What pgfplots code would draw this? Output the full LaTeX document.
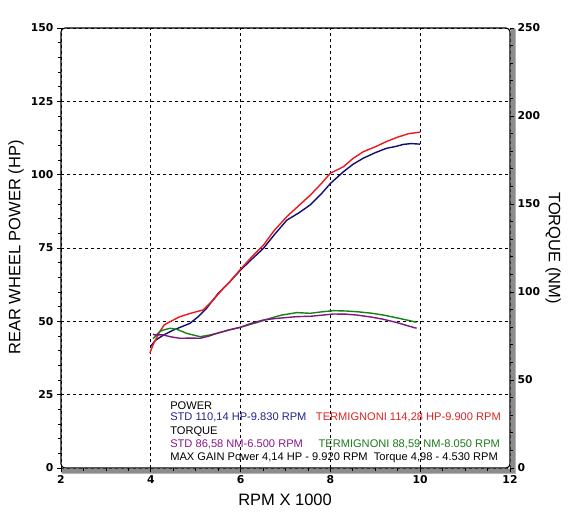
\documentclass[border=0pt]{standalone}
\usepackage{pgfplots}
\pgfplotsset{compat=1.18}
\usepackage{fontspec}
\setmainfont{Liberation Sans}
\newfontfamily\tickfont{DejaVu Sans}
\definecolor{navyc}{RGB}{15,15,115}
\definecolor{redc}{RGB}{235,25,30}
\definecolor{greenc}{RGB}{20,130,20}
\definecolor{purplec}{RGB}{130,20,130}
\definecolor{navyt}{RGB}{35,35,140}
\definecolor{redt}{RGB}{225,35,35}
\definecolor{greent}{RGB}{30,120,30}
\definecolor{purplet}{RGB}{135,25,135}
\definecolor{shadowc}{RGB}{140,140,140}

\pgfplotstableread{
x y
4.00 41.5
4.10 43.5
4.28 45.3
4.50 47.0
4.87 49.3
5.05 51.5
5.24 54.4
5.50 59.5
5.76 63.5
6.00 67.5
6.25 71.2
6.51 74.9
6.75 79.5
7.03 84.5
7.30 87.0
7.55 89.7
7.80 93.5
8.00 97.0
8.29 101.0
8.50 103.5
8.73 105.6
9.00 107.5
9.25 109.0
9.45 109.6
9.62 110.3
9.80 110.6
10.00 110.4
}\stdpower

\pgfplotstableread{
x y
3.98 39.2
4.05 42.0
4.20 46.5
4.30 48.8
4.43 49.9
4.65 51.6
4.90 52.8
5.17 53.9
5.39 57.3
5.60 61.0
5.76 63.5
6.00 67.8
6.25 72.0
6.51 76.0
6.75 81.0
7.03 85.7
7.30 89.5
7.55 93.0
7.80 97.0
8.00 100.5
8.29 102.7
8.50 105.5
8.73 107.8
9.00 109.5
9.25 111.3
9.50 112.8
9.75 114.0
10.00 114.5
}\termpower

\pgfplotstableread{
x y
4.05 73.5
4.09 74.6
4.20 77.5
4.28 78.4
4.43 79.4
4.58 78.8
4.80 76.5
5.10 74.6
5.30 75.5
5.47 76.5
5.75 78.5
5.99 79.9
6.20 81.5
6.36 82.6
6.65 85.0
6.90 86.8
7.25 88.3
7.55 87.9
7.80 88.7
8.07 89.4
8.35 89.2
8.59 88.8
8.90 88.0
9.18 86.9
9.50 85.2
9.75 83.8
9.92 82.8
}\termtorque

\pgfplotstableread{
x y
4.05 76.0
4.09 75.6
4.28 75.6
4.45 74.5
4.65 73.7
4.90 73.8
5.10 73.7
5.30 75.0
5.47 76.5
5.75 78.5
5.99 79.9
6.25 82.3
6.51 84.1
6.80 85.0
7.25 86.0
7.55 86.2
7.80 86.8
8.07 87.5
8.35 87.4
8.59 86.9
8.90 85.8
9.18 84.5
9.50 82.5
9.75 80.6
9.92 79.4
}\stdtorque

\begin{document}
\begin{tikzpicture}
\useasboundingbox (-61bp,-49bp) rectangle (507bp,468bp);
\pgfplotsset{
  common/.style={
    scale only axis, width=449bp, height=440bp,
    xmin=2, xmax=12,
    tick align=outside,
    major tick length=4bp, minor tick length=3bp,
    tick style={black, line width=0.8bp},
    /pgf/number format/assume math mode=true,
    tick label style={font=\tickfont\bfseries\fontsize{10.8bp}{12bp}\selectfont},
    axis line style={draw=none},
  }
}
\begin{axis}[common,
  name=ax,
  ymin=0, ymax=150,
  xtick={2,4,...,12}, ytick={0,25,...,150},
  minor x tick num=3, minor y tick num=4,
  xtick pos=bottom, ytick pos=left,
  grid=major,
  major grid style={black, dash pattern=on 3bp off 3bp, line width=0.7bp},
  axis background/.style={fill=white, draw=black, line width=1.1bp, rounded corners=4bp},
  xlabel={RPM X 1000},
  ylabel={REAR WHEEL POWER (HP)},
  every axis x label/.style={at={(axis description cs:0.499,-0.073)}, anchor=center, font=\fontsize{16.5bp}{18bp}\selectfont},
  every axis y label/.style={at={(axis description cs:-0.10,0.501)}, rotate=90, anchor=center, font=\fontsize{16.5bp}{18bp}\selectfont},
]
\addplot[navyc, line width=1.4bp] table[x=x,y=y] {\stdpower};
\addplot[redc, line width=1.4bp] table[x=x,y=y] {\termpower};

\begin{scope}[every node/.style={font=\fontsize{11.1bp}{12bp}\selectfont, inner sep=0pt}]
\node[anchor=west, text=black] at (axis cs:4.43,21.2) {POWER};
\node[anchor=west, text=navyt] at (axis cs:4.43,17.2) {STD 110,14 HP-9.830 RPM};
\node[anchor=east, text=redt] at (axis cs:11.8,17.2) {TERMIGNONI 114,28 HP-9.900 RPM};
\node[anchor=west, text=black] at (axis cs:4.43,12.3) {TORQUE};
\node[anchor=west, text=purplet] at (axis cs:4.43,8.2) {STD 86,58 NM-6.500 RPM};
\node[anchor=east, text=greent] at (axis cs:11.78,8.2) {TERMIGNONI 88,59 NM-8.050 RPM};
\node[anchor=west, text=black] at (axis cs:4.43,3.6) {MAX GAIN Power 4,14 HP - 9.920 RPM\ \ Torque 4,98 - 4.530 RPM};
\end{scope}
\end{axis}
% drop shadow of the frame (ring outside the frame, right and bottom)
\fill[shadowc, even odd rule]
  ([xshift=0.6bp,yshift=-5.5bp]ax.south west) -- ([xshift=5.5bp,yshift=-5.5bp]ax.south east) -- ([xshift=5.5bp,yshift=-0.6bp]ax.north east)
  -- ([xshift=0.6bp,yshift=-0.6bp]ax.north east) -- ([xshift=0.6bp,yshift=-0.6bp]ax.south east) -- ([xshift=0.6bp,yshift=-0.6bp]ax.south west) -- cycle;

\begin{axis}[common,
  ymin=0, ymax=250,
  axis x line=none, axis y line*=right,
  ytick={0,50,...,250}, minor y tick num=4,
  ylabel={TORQUE (NM)},
  every axis y label/.style={at={(axis description cs:1.096,0.5)}, rotate=-90, anchor=center, font=\fontsize{16.5bp}{18bp}\selectfont},
]
\addplot[greenc, line width=1.4bp] table[x=x,y=y] {\termtorque};
\addplot[purplec, line width=1.4bp] table[x=x,y=y] {\stdtorque};
\end{axis}
% bottom ticks redrawn over the shadow
\begin{axis}[common,
  ymin=0, ymax=150,
  axis y line=none, axis x line*=bottom,
  xtick={2,4,...,12}, minor x tick num=3,
  xticklabels={},
]
\end{axis}
\end{tikzpicture}
\end{document}
